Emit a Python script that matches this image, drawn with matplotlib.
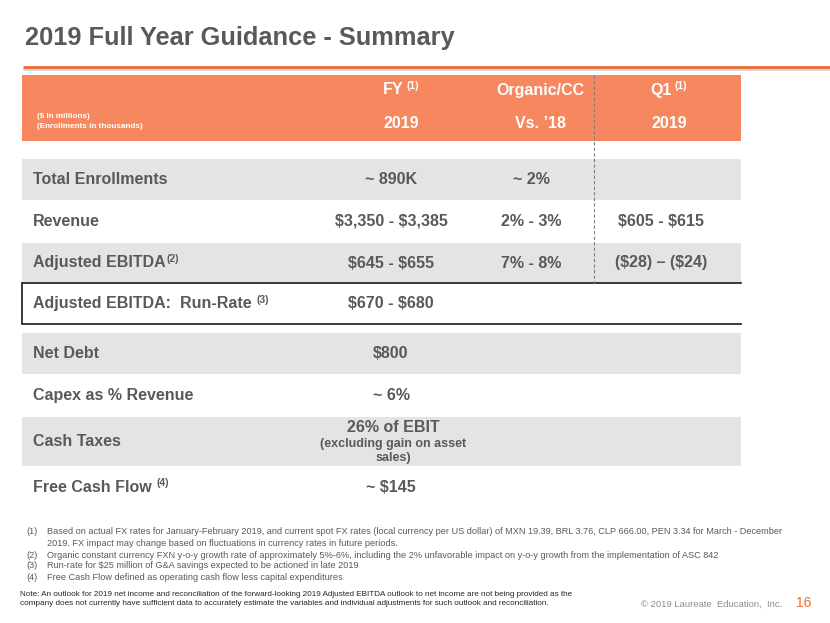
import matplotlib
matplotlib.use("Agg")
import matplotlib.pyplot as plt
from matplotlib.patches import Rectangle

plt.rcParams["font.family"] = ["Liberation Sans", "DejaVu Sans"]
plt.rcParams["text.parse_math"] = False

# data
title = "2019 Full Year Guidance - Summary"
col_heads = [("FY", "(1)", "2019"), ("Organic/CC", "", "Vs. \u201918"), ("Q1", "(1)", "2019")]
unit_notes = ["($ in millions)", "(Enrollments in thousands)"]

labels = ["Total Enrollments", "Revenue", "Adjusted EBITDA", "Adjusted EBITDA:  Run-Rate ",
          "Net Debt", "Capex as % Revenue", "Cash Taxes", "Free Cash Flow "]
label_sup = ["", "", "(2)", "(3)", "", "", "", "(4)"]
fy_vals = ["~ 890K", "$3,350 - $3,385", "$645 - $655", "$670 - $680",
           "$800", "~ 6%", "26% of EBIT", "~ $145"]
organic_vals = ["~ 2%", "2% - 3%", "7% - 8%", "", "", "", "", ""]
q1_vals = ["", "$605 - $615", "($28) \u2013 ($24)", "", "", "", "", ""]
cash_tax_note = "(excluding gain on asset\nsales)"

footnotes = [
    ("(1)", "Based on actual FX rates for January-February 2019, and current spot FX rates (local currency per US dollar) of MXN 19.39, BRL 3.76, CLP 666.00, PEN 3.34 for March - December"),
    ("", "2019. FX impact may change based on fluctuations in currency rates in future periods."),
    ("(2)", "Organic constant currency FXN y-o-y growth rate of approximately 5%-6%, including the 2% unfavorable impact on y-o-y growth from the implementation of ASC 842"),
    ("(3)", "Run-rate for $25 million of G&A savings expected to be actioned in late 2019"),
    ("(4)", "Free Cash Flow defined as operating cash flow less capital expenditures"),
]
note = ("Note: An outlook for 2019 net income and reconciliation of the forward-looking 2019 Adjusted EBITDA outlook to net income are not being provided as the\n"
        "company does not currently have sufficient data to accurately estimate the variables and individual adjustments for such outlook and reconciliation.")
copyright_txt = "\u00a9 2019 Laureate  Education,  Inc."
page_no = "16"

# colours
ORANGE = "#F7875E"
LINE_ORANGE = "#EE6B33"
GREY_ROW = "#E4E4E4"
TEXT = "#595959"

# layout (pixel coords)
row_top = [159, 200, 243, 283, 333, 374, 417, 466]
row_bot = [200, 243, 283, 324, 374, 417, 466, 508]
shaded = [True, False, True, False, True, False, True, False]
x_left, x_right = 22, 741
col_x = [391, 531, 661]
head_x = [401, 540, 669]

fig = plt.figure(figsize=(8.3, 6.23), dpi=100)
ax = fig.add_axes([0, 0, 1, 1])
ax.set_xlim(0, 830)
ax.set_ylim(623, 0)
ax.axis("off")

ax.text(25, 38, title, fontsize=18.3, fontweight="bold", color=TEXT, va="center", ha="left")
ax.plot([23, 830], [69, 69], color="#D8D8D8", lw=2, solid_capstyle="butt")
ax.plot([23, 830], [67, 67], color=LINE_ORANGE, lw=2, solid_capstyle="butt")

# header
ax.add_patch(Rectangle((x_left, 75), x_right - x_left, 66, color=ORANGE, lw=0))
for (h1, sup, h2), x in zip(col_heads, head_x):
    if sup:
        t = ax.text(x - 8, 90, h1, fontsize=11.5, fontweight="bold", color="white", ha="center", va="center")
        ax.annotate(sup, xy=(1, 1), xycoords=t, xytext=(2, 1), textcoords="offset points",
                    fontsize=7.5, fontweight="bold", color="white", ha="left", va="top")
    else:
        ax.text(x, 90, h1, fontsize=11.5, fontweight="bold", color="white", ha="center", va="center")
    ax.text(x, 124, h2, fontsize=11.5, fontweight="bold", color="white", ha="center", va="center")
ax.text(37, 117, unit_notes[0], fontsize=5.9, fontweight="bold", color="white", va="center")
ax.text(37, 127, unit_notes[1], fontsize=5.9, fontweight="bold", color="white", va="center")

# rows
for i, lab in enumerate(labels):
    top, bot = row_top[i], row_bot[i]
    if shaded[i]:
        ax.add_patch(Rectangle((x_left, top), x_right - x_left, bot - top, color=GREY_ROW, lw=0))
    yc = (top + bot) / 2
    if lab == "Cash Taxes":
        ax.text(33, yc, lab, fontsize=11.5, fontweight="bold", color=TEXT, va="center")
        ax.text(col_x[0] + 2, 427, fy_vals[i], fontsize=11.5, fontweight="bold", color=TEXT, ha="center", va="center")
        ax.text(col_x[0] + 2, 451, cash_tax_note, fontsize=9, fontweight="bold", color=TEXT,
                ha="center", va="center", linespacing=1.25)
        continue
    t = ax.text(33, yc, lab, fontsize=11.5, fontweight="bold", color=TEXT, va="center")
    if label_sup[i]:
        ax.annotate(label_sup[i], xy=(1, 1), xycoords=t, xytext=(0.5, 1), textcoords="offset points",
                    fontsize=7.5, fontweight="bold", color=TEXT, ha="left", va="top")
    for vals, x in zip([fy_vals, organic_vals, q1_vals], col_x):
        if vals[i]:
            ax.text(x, yc, vals[i], fontsize=11.5, fontweight="bold", color=TEXT, ha="center", va="center")

# run-rate box
ax.plot([x_right, x_left, x_left, x_right], [283, 283, 324, 324], color="#1a1a1a", lw=1.2,
        solid_joinstyle="miter")
# dashed separator
ax.plot([594, 594], [75, 283], color="#7f7f7f", lw=0.8, ls=(0, (3, 2)))

# footnotes
fy = [532, 543, 555, 566, 577]
for (num, txt), y in zip(footnotes, fy):
    if num:
        ax.text(26, y, num, fontsize=6.6, color=TEXT, va="center")
    ax.text(47, y, txt, fontsize=6.6, color=TEXT, va="center")
ax.text(20, 599, note, fontsize=5.9, color="#262626", va="center", linespacing=1.55)
ax.text(641, 604, copyright_txt, fontsize=6.8, color="#8C8C8C", va="center")
ax.text(796, 603, page_no, fontsize=10, color=LINE_ORANGE, va="center")

fig.savefig("out.png", dpi=100)
